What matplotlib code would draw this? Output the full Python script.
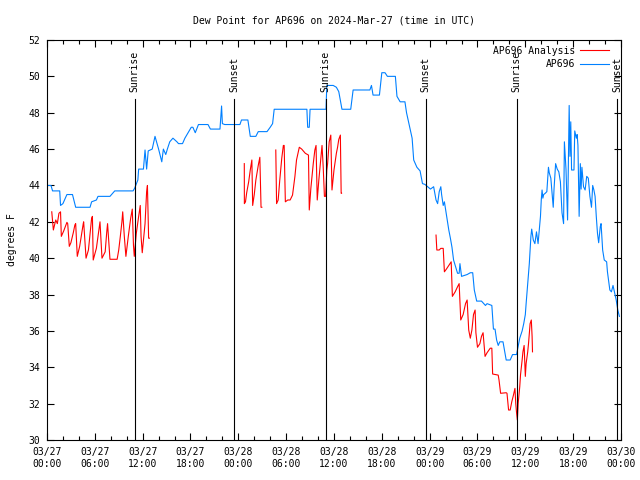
import matplotlib
matplotlib.use('Agg')
import matplotlib.pyplot as plt
from matplotlib.lines import Line2D

plt.rcParams['font.family'] = ['DejaVu Sans Mono']
plt.rcParams['font.size'] = 7

# hours since 2024-03-27 00:00 UTC
blue_hours = [0.0, 0.5, 0.7, 1.6, 1.7, 2.0, 2.5, 3.2, 3.6, 5.4, 5.6, 6.2, 6.4, 7.9, 8.5, 10.8,
              11.0, 11.4, 11.5, 12.1, 12.3, 12.5, 12.7, 13.2, 13.55, 14.0, 14.4, 14.6, 14.9, 15.1,
              15.4, 15.8, 16.3, 16.5, 17.0, 17.3, 17.7, 18.1, 18.3, 18.6, 19.0, 20.2, 20.5, 21.7,
              21.9, 22.0, 22.3, 24.2, 24.4, 25.2, 25.5, 26.2, 26.5, 27.6, 28.0, 28.3, 28.5, 32.6,
              32.7, 32.9, 33.0, 35.0, 35.1, 35.9, 36.3, 36.6, 37.0, 38.1, 38.4, 40.5, 40.7, 40.9,
              41.7, 41.9, 42.0, 42.4, 42.7, 43.7, 43.9, 44.3, 44.9, 45.1, 45.5, 45.8, 46.0, 46.4,
              46.8, 47.1, 47.4, 48.1, 48.5, 48.8, 49.0, 49.2, 49.4, 49.5, 49.7, 49.85, 50.2, 50.4,
              50.6, 50.8, 51.0, 51.2, 51.5, 51.7, 51.8, 52.0, 52.7, 53.1, 53.4, 53.6, 53.9, 54.5,
              55.0, 55.2, 55.8, 56.0, 56.2, 56.4, 56.6, 56.8, 57.2, 57.6, 58.1, 58.4, 58.9, 59.3,
              59.6, 59.8, 60.0, 60.1, 60.3, 60.4, 60.5, 60.6, 60.7, 60.8, 61.0, 61.2, 61.4, 61.6,
              61.9, 62.0, 62.1, 62.2, 62.3, 62.5, 62.7, 62.9, 63.0, 63.2, 63.5, 63.6, 63.8, 64.0,
              64.2, 64.4, 64.6, 64.8, 64.9, 65.1, 65.3, 65.5, 65.6, 65.7, 65.8, 66.1, 66.2, 66.4,
              66.5, 66.6, 66.75, 66.9, 67.0, 67.1, 67.3, 67.5, 67.7, 67.9, 68.1, 68.3, 68.45, 68.6,
              68.75, 68.9, 69.05, 69.2, 69.4, 69.5, 69.6, 69.7, 69.9, 70.2, 70.3, 70.5, 70.6, 70.8,
              71.0, 71.2, 71.4, 71.6, 71.8]
blue_vals = [44.0, 44.0, 43.7, 43.7, 42.9, 43.0, 43.5, 43.5, 42.8, 42.8, 43.1, 43.2, 43.4, 43.4, 43.7, 43.7,
             43.85, 44.3, 44.9, 44.9, 45.95, 44.9, 45.9, 46.0, 46.7, 46.0, 45.3, 46.0, 45.7, 46.0,
             46.4, 46.6, 46.4, 46.3, 46.3, 46.6, 46.9, 47.2, 47.2, 46.9, 47.35, 47.35, 47.1, 47.1,
             48.37, 47.4, 47.35, 47.35, 47.6, 47.6, 46.7, 46.7, 46.96, 46.96, 47.2, 47.4, 48.19, 48.19,
             47.2, 47.2, 48.19, 48.19, 49.5, 49.5, 49.4, 49.16, 48.19, 48.19, 49.25, 49.25, 49.5, 48.97,
             48.97, 49.8, 50.2, 50.2, 50.0, 50.0, 48.9, 48.6, 48.6, 48.0, 47.2, 46.6, 45.4, 45.0,
             44.8, 44.1, 44.06, 43.8, 43.93, 43.2, 43.0, 43.66, 43.93, 43.5, 42.9, 43.1, 42.1, 41.55,
             41.1, 40.6, 39.9, 39.6, 39.17, 39.17, 39.7, 39.0, 39.1, 39.2, 39.2, 38.25, 37.64, 37.64,
             37.4, 37.5, 37.4, 36.1, 36.1, 35.5, 35.2, 35.4, 35.4, 34.4, 34.4, 34.7, 34.7, 35.6,
             36.0, 36.4, 36.9, 37.5, 38.6, 39.2, 39.7, 40.45, 41.2, 41.6, 41.0, 40.8, 41.45, 40.8,
             42.3, 43.2, 43.75, 43.3, 43.5, 43.57, 43.66, 45.0, 44.7, 44.4, 42.8, 43.8, 45.2, 44.9,
             44.75, 44.2, 42.5, 41.9, 46.4, 44.9, 42.1, 48.4, 45.6, 47.5, 44.85, 44.85, 47.0, 46.6,
             46.8, 46.2, 42.3, 45.2, 43.8, 45.0, 43.93, 43.75, 44.5, 44.4, 43.4, 42.8, 44.0, 43.75,
             43.4, 42.3, 41.37, 40.85, 41.73, 41.9, 41.2, 40.45, 39.9, 39.8, 39.25, 38.6, 38.25, 38.15,
             38.5, 38.1, 37.7, 37.15, 36.8]

red1_hours = [0.6, 0.8, 1.1, 1.3, 1.5, 1.7, 1.8, 2.1, 2.5, 2.6, 2.8, 3.0, 3.3, 3.5, 3.6, 3.8, 4.1,
              4.55, 4.6, 4.9, 5.2, 5.6, 5.7, 5.8, 6.2, 6.65, 6.9, 7.3, 7.5, 7.6, 7.8, 7.9, 8.8, 9.0,
              9.2, 9.4, 9.5, 9.7, 9.9, 10.2, 10.5, 10.7, 10.85, 10.95, 11.2, 11.5, 11.7, 11.8, 11.95,
              12.3, 12.5, 12.6, 12.75, 12.85]
red1_vals = [42.55, 41.55, 42.1, 41.9, 42.47, 42.55, 41.2, 41.5, 41.97, 41.9, 40.65, 40.85, 41.4, 41.83,
             41.9, 40.1, 40.65, 41.9, 42.0, 40.0, 40.45, 42.2, 42.3, 39.9, 40.55, 42.0, 40.0, 40.35,
             41.45, 41.9, 40.6, 39.94, 39.94, 40.45, 41.2, 42.0, 42.55, 41.2, 40.1, 41.2, 42.2, 42.7,
             40.7, 40.1, 41.35, 42.3, 42.9, 41.2, 40.3, 41.9, 43.66, 44.0, 41.1, 41.1]

red2_hours = [24.75, 24.76, 24.9, 25.05, 25.3, 25.5, 25.7, 25.8, 26.0, 26.2, 26.5, 26.7, 26.85, 26.95]
red2_vals = [45.2, 43.0, 43.1, 43.6, 44.2, 44.85, 45.4, 42.9, 43.5, 44.3, 45.1, 45.55, 42.8, 42.8]

red3_hours = [28.7, 28.8, 29.0, 29.2, 29.45, 29.65, 29.75, 29.9, 30.2, 30.5, 30.8, 31.1, 31.3, 31.65,
              31.95, 32.4, 32.8, 32.9, 33.1, 33.4, 33.6, 33.75, 33.9, 34.1, 34.5, 34.65, 34.8, 34.95,
              35.1, 35.2, 35.4, 35.6, 35.75, 36.0, 36.3, 36.45, 36.6, 36.8, 36.9, 36.95]
red3_vals = [45.95, 43.0, 43.2, 44.3, 45.5, 46.2, 46.2, 43.1, 43.2, 43.2, 43.47, 44.5, 45.4, 46.1,
             46.0, 45.77, 45.67, 42.65, 43.85, 45.2, 45.95, 46.2, 43.2, 44.3, 46.2, 45.0, 43.4, 43.4,
             44.85, 45.2, 46.4, 46.77, 43.75, 44.85, 45.77, 46.1, 46.53, 46.77, 43.57, 43.57]

red4_hours = [48.8, 48.9, 49.2, 49.4, 49.7, 49.85, 50.1, 50.4, 50.7, 50.85, 51.2, 51.5, 51.7, 51.9,
              52.2, 52.5, 52.7, 52.9, 53.1, 53.3, 53.5, 53.7, 53.8, 54.0, 54.3, 54.5, 54.7, 54.95,
              55.2, 55.6, 55.8, 55.9, 56.6, 56.7, 56.9, 57.6, 57.7, 57.9, 58.1, 58.3, 58.5, 58.7,
              58.8, 58.9, 59.0, 59.1, 59.3, 59.4, 59.6, 59.7, 59.85, 60.0, 60.1, 60.3, 60.4, 60.6,
              60.75, 60.85, 60.9]
red4_vals = [41.27, 40.45, 40.45, 40.54, 40.54, 39.25, 39.4, 39.6, 39.8, 37.9, 38.15, 38.43, 38.6, 36.6,
             36.9, 37.5, 37.7, 36.05, 35.6, 36.05, 36.9, 37.15, 35.9, 35.1, 35.3, 35.7, 35.9, 34.6,
             34.8, 35.05, 35.05, 33.63, 33.57, 33.3, 32.57, 32.6, 32.57, 31.65, 31.65, 32.1, 32.45, 32.84,
             32.0, 31.5, 31.1, 32.0, 32.93, 33.6, 34.4, 34.85, 35.2, 33.5, 34.2, 34.85, 35.3, 36.4,
             36.6, 35.7, 34.85]

sun_hours = [10.98, 23.45, 34.96, 47.48, 58.94, 71.5]
sun_names = ['Sunrise', 'Sunset', 'Sunrise', 'Sunset', 'Sunrise', 'Sunset']

tick_hours = [0, 6, 12, 18, 24, 30, 36, 42, 48, 54, 60, 66, 72]
tick_labels = ['03/27\n00:00', '03/27\n06:00', '03/27\n12:00', '03/27\n18:00',
               '03/28\n00:00', '03/28\n06:00', '03/28\n12:00', '03/28\n18:00',
               '03/29\n00:00', '03/29\n06:00', '03/29\n12:00', '03/29\n18:00',
               '03/30\n00:00']

RED = '#ff0000'
BLUE = '#0080ff'
LW = 0.8

fig = plt.figure(figsize=(6.4, 4.8), dpi=100)
ax = fig.add_axes([0.0734, 0.0833, 0.8969, 0.8334])

for h, v in [(red1_hours, red1_vals), (red2_hours, red2_vals),
             (red3_hours, red3_vals), (red4_hours, red4_vals)]:
    ax.plot(h, v, color=RED, lw=LW)
ax.plot(blue_hours, blue_vals, color=BLUE, lw=LW)

# sunrise / sunset markers
for t, name in zip(sun_hours, sun_names):
    ax.axvline(t, ymin=0, ymax=0.8525, color='black', lw=LW)
    ax.text(t, 0.87, name, rotation=90, ha='center', va='bottom', fontsize=7,
            transform=ax.get_xaxis_transform())

ax.set_xlim(0, 72)
ax.set_ylim(30, 52)
ax.set_xticks(tick_hours)
ax.set_xticklabels(tick_labels)
ax.set_xticks(range(0, 73, 2), minor=True)
ax.set_yticks(range(30, 53, 2))
ax.tick_params(which='both', direction='in', top=True, right=True, width=LW, labelsize=7)
ax.tick_params(which='major', length=5, pad=5)
ax.tick_params(which='minor', length=3)
ax.tick_params(axis='y', which='minor', left=False, right=False)
for s in ax.spines.values():
    s.set_linewidth(LW)

ax.set_title('Dew Point for AP696 on 2024-Mar-27 (time in UTC)', fontsize=7, pad=12)
ax.set_ylabel('degrees F', fontsize=7, labelpad=8)

handles = [Line2D([], [], color=RED, lw=LW), Line2D([], [], color=BLUE, lw=LW)]
ax.legend(handles, ['AP696 Analysis', 'AP696'], loc='upper right', frameon=False, fontsize=7,
          markerfirst=False, handlelength=3.0, handletextpad=0.5, labelspacing=0.35,
          borderaxespad=0.2, bbox_to_anchor=(0.99, 1.0))

plt.savefig('out.png', dpi=100)
plt.close()
